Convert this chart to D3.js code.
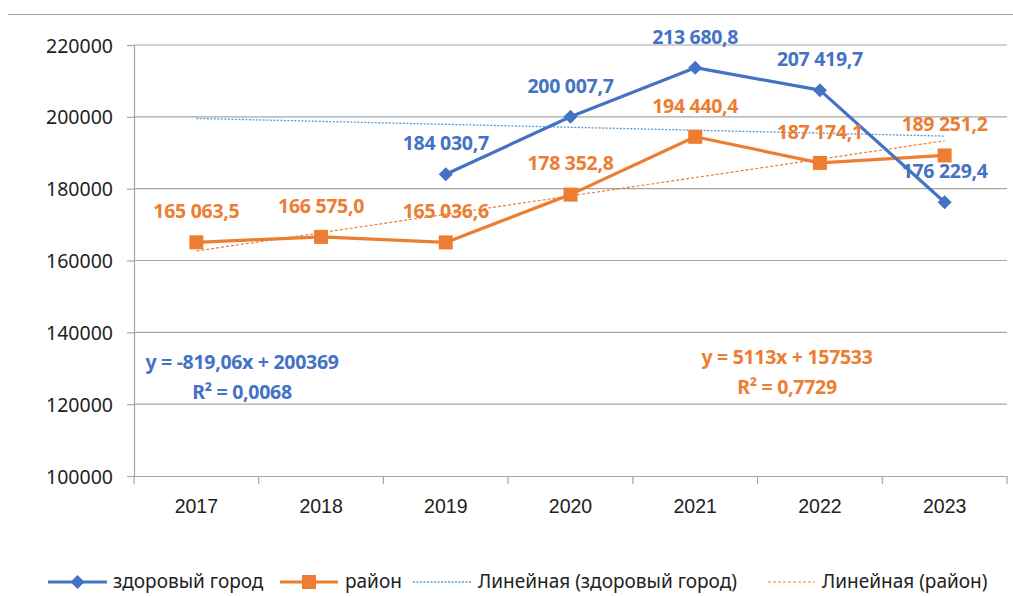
<!DOCTYPE html>
<html>
<head>
<meta charset="utf-8">
<script src="https://cdn.jsdelivr.net/npm/d3@7"></script>
<style>
  body { margin: 0; background: #fff; }
  svg { display: block; font-family: "Noto Sans", "Open Sans", sans-serif; }
</style>
</head>
<body>
<svg id="chart" width="1013" height="596"></svg>
<script>
const YEARS = ['2017', '2018', '2019', '2020', '2021', '2022', '2023'];
const CITY = [null, null, 184030.7, 200007.7, 213680.8, 207419.7, 176229.4];
const DISTRICT = [165063.5, 166575.0, 165036.6, 178352.8, 194440.4, 187174.1, 189251.2];
const Y_TICKS = [100000, 120000, 140000, 160000, 180000, 200000, 220000];

// trend equations as shown on the chart (x = 1..7)
const TREND_CITY = { slope: -819.06, intercept: 200369, text: ['y = -819,06x + 200369', 'R² = 0,0068'] };
const TREND_DISTRICT = { slope: 5113, intercept: 157533, text: ['y = 5113x + 157533', 'R² = 0,7729'] };

const LEGEND = ['здоровый город', 'район', 'Линейная (здоровый город)', 'Линейная (район)'];

const BLUE = '#4472C4';
const ORANGE = '#ED7D31';
const TREND_BLUE = '#5B9BD5';
const GRID = '#a6a6a6';

const svg = d3.select('#chart');
const ru = d3.formatLocale({ decimal: ',', thousands: ' ', grouping: [3], currency: ['', ''] });
const fmt = ru.format(',.1f');

const x = d3.scaleBand().domain(YEARS).range([134, 1007]).padding(0);
const y = d3.scaleLinear().domain([100000, 220000]).range([476, 45]);
const cx = d => x(d) + x.bandwidth() / 2;

// top border
svg.append('line')
    .attr('x1', 8).attr('x2', 1013).attr('y1', 14.5).attr('y2', 14.5)
    .attr('stroke', GRID).attr('stroke-width', 1.2);

// grid + y axis
const yAxis = svg.append('g')
    .attr('transform', 'translate(134,0)')
    .call(d3.axisLeft(y).tickValues(Y_TICKS).tickSize(7).tickFormat(d3.format('d')));
yAxis.select('.domain').attr('stroke', GRID).attr('stroke-width', 1.2);
yAxis.selectAll('.tick line').attr('stroke', GRID).attr('stroke-width', 1.2);
yAxis.selectAll('.tick text')
    .attr('x', -21).attr('dy', '0.36em')
    .attr('font-size', 19.5).attr('fill', '#222')
    .attr('font-family', '"Noto Sans", sans-serif');

svg.append('g').selectAll('line')
    .data(Y_TICKS.filter(t => t > 100000))
    .join('line')
    .attr('x1', 134).attr('x2', 1007)
    .attr('y1', d => y(d)).attr('y2', d => y(d))
    .attr('stroke', GRID).attr('stroke-width', 1.2);

// x axis
const xAxis = svg.append('g')
    .attr('transform', `translate(0,${y(100000)})`)
    .call(d3.axisBottom(x).tickSize(0).tickPadding(23));
xAxis.select('.domain').attr('stroke', GRID).attr('stroke-width', 1.2);
xAxis.selectAll('.tick text').attr('font-size', 19.5).attr('fill', '#222');
xAxis.selectAll('.bound')
    .data(d3.range(YEARS.length + 1))
    .join('line')
    .attr('x1', i => 134 + i * x.bandwidth()).attr('x2', i => 134 + i * x.bandwidth())
    .attr('y1', 0).attr('y2', 8)
    .attr('stroke', GRID).attr('stroke-width', 1.2);

// trend lines
function trendLine(t, color, dash, width) {
    const pts = [1, YEARS.length].map(i => [cx(YEARS[i - 1]), y(t.slope * i + t.intercept)]);
    svg.append('path')
        .attr('d', d3.line()(pts))
        .attr('fill', 'none')
        .attr('stroke', color)
        .attr('stroke-width', width)
        .attr('stroke-dasharray', dash);
}
trendLine(TREND_CITY, TREND_BLUE, '2,1.5', 1.3);
trendLine(TREND_DISTRICT, ORANGE, '3,2', 1.2);

// series
const line = d3.line()
    .defined(d => d.v != null)
    .x(d => cx(d.year))
    .y(d => y(d.v));

const cityData = YEARS.map((year, i) => ({ year, v: CITY[i] }));
const distData = YEARS.map((year, i) => ({ year, v: DISTRICT[i] }));

svg.append('path').datum(distData)
    .attr('d', line).attr('fill', 'none')
    .attr('stroke', ORANGE).attr('stroke-width', 3.2).attr('stroke-linejoin', 'round');
svg.append('path').datum(cityData)
    .attr('d', line).attr('fill', 'none')
    .attr('stroke', BLUE).attr('stroke-width', 3.2).attr('stroke-linejoin', 'round');

svg.append('g').selectAll('rect')
    .data(distData)
    .join('rect')
    .attr('x', d => cx(d.year) - 7).attr('y', d => y(d.v) - 7)
    .attr('width', 14).attr('height', 14)
    .attr('fill', ORANGE);

const diamond = d3.symbol().type(d3.symbolDiamond2).size(125);
svg.append('g').selectAll('path')
    .data(cityData.filter(d => d.v != null))
    .join('path')
    .attr('d', diamond)
    .attr('transform', d => `translate(${cx(d.year)},${y(d.v)})`)
    .attr('fill', BLUE);

// data labels
function labels(data, color) {
    svg.append('g').selectAll('text')
        .data(data.filter(d => d.v != null))
        .join('text')
        .attr('x', d => cx(d.year))
        .attr('y', d => y(d.v) - 31)
        .attr('dy', '0.35em')
        .attr('text-anchor', 'middle')
        .attr('font-size', 19.5).attr('font-weight', 'bold')
        .attr('letter-spacing', -0.3)
        .attr('fill', color)
        .text(d => fmt(d.v));
}
labels(distData, ORANGE);
labels(cityData, BLUE);

// equations
function equation(t, color, px, py) {
    const g = svg.append('text')
        .attr('text-anchor', 'middle')
        .attr('font-size', 19.5).attr('font-weight', 'bold')
        .attr('letter-spacing', -0.3)
        .attr('fill', color);
    t.text.forEach((s, i) => {
        g.append('tspan').attr('x', px).attr('y', py + i * 30).text(s);
    });
}
equation(TREND_CITY, BLUE, 242, 369);
equation(TREND_DISTRICT, ORANGE, 787, 364);

// legend
const legendItems = [
    { x0: 48, x1: 107, tx: 113, color: BLUE, w: 3.2, dash: null, mark: 'diamond' },
    { x0: 280, x1: 338, tx: 345, color: ORANGE, w: 3.2, dash: null, mark: 'square' },
    { x0: 413, x1: 472, tx: 478, color: TREND_BLUE, w: 1.3, dash: '2,1.5', mark: null },
    { x0: 768, x1: 815, tx: 822, color: ORANGE, w: 1.2, dash: '3,2', mark: null }
];
const ly = 582;
const lg = svg.append('g');
legendItems.forEach((it, i) => {
    lg.append('line')
        .attr('x1', it.x0).attr('x2', it.x1).attr('y1', ly).attr('y2', ly)
        .attr('stroke', it.color).attr('stroke-width', it.w)
        .attr('stroke-dasharray', it.dash);
    const mx = (it.x0 + it.x1) / 2;
    if (it.mark === 'diamond') {
        lg.append('path').attr('d', diamond).attr('transform', `translate(${mx},${ly})`).attr('fill', it.color);
    } else if (it.mark === 'square') {
        lg.append('rect').attr('x', mx - 7).attr('y', ly - 7).attr('width', 14).attr('height', 14).attr('fill', it.color);
    }
    lg.append('text')
        .attr('x', it.tx).attr('y', ly).attr('dy', '0.33em')
        .attr('font-size', 19).attr('fill', '#222')
        .text(LEGEND[i]);
});
</script>
</body>
</html>
